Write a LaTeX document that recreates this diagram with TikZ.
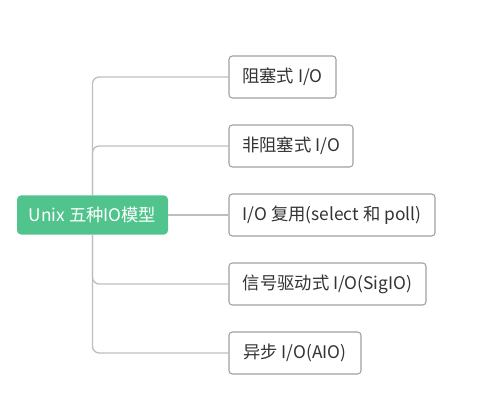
\documentclass[tikz,border=0pt]{standalone}
\usepackage{fontspec}
\setmainfont{Noto Sans CJK SC}
\definecolor{rootgreen}{RGB}{80,196,140}
\definecolor{linegray}{RGB}{190,190,190}
\definecolor{boxgray}{RGB}{160,160,160}
\definecolor{txt}{RGB}{51,51,51}
\begin{document}
\begin{tikzpicture}[x=0.75pt,y=-0.75pt,
  rootbox/.style={draw=none,fill=rootgreen,rounded corners=3pt,text=white,font=\fontsize{13}{15}\selectfont,minimum height=29.25pt,inner sep=0pt},
  leafbox/.style={draw=boxgray,line width=0.8pt,fill=white,rounded corners=2.5pt,text=txt,font=\fontsize{13}{15}\selectfont,minimum height=31.5pt,inner sep=0pt},
  conn/.style={draw=linegray,line width=1pt,rounded corners=5pt}]
\useasboundingbox (0,0) rectangle (484,416);
\node[rootbox,minimum width=113.25pt] (root) at (92.5,215) {Unix 五种IO模型};
\node[leafbox,minimum width=80.25pt] (b1) at (282.5,77) {阻塞式 I/O};
\node[leafbox,minimum width=93pt] (b2) at (291,146) {非阻塞式 I/O};
\node[leafbox,minimum width=154.5pt] (b3) at (332,215) {I/O 复用(select 和 poll)};
\node[leafbox,minimum width=147.75pt] (b4) at (327.5,284) {信号驱动式 I/O(SigIO)};
\node[leafbox,minimum width=99pt] (b5) at (295,353) {异步 I/O(AIO)};
\draw[conn] (root.north) |- (b1.west);
\draw[conn] (root.north) |- (b2.west);
\draw[conn] (root.east) -- (b3.west);
\draw[conn] (root.south) |- (b4.west);
\draw[conn] (root.south) |- (b5.west);
\end{tikzpicture}
\end{document}
